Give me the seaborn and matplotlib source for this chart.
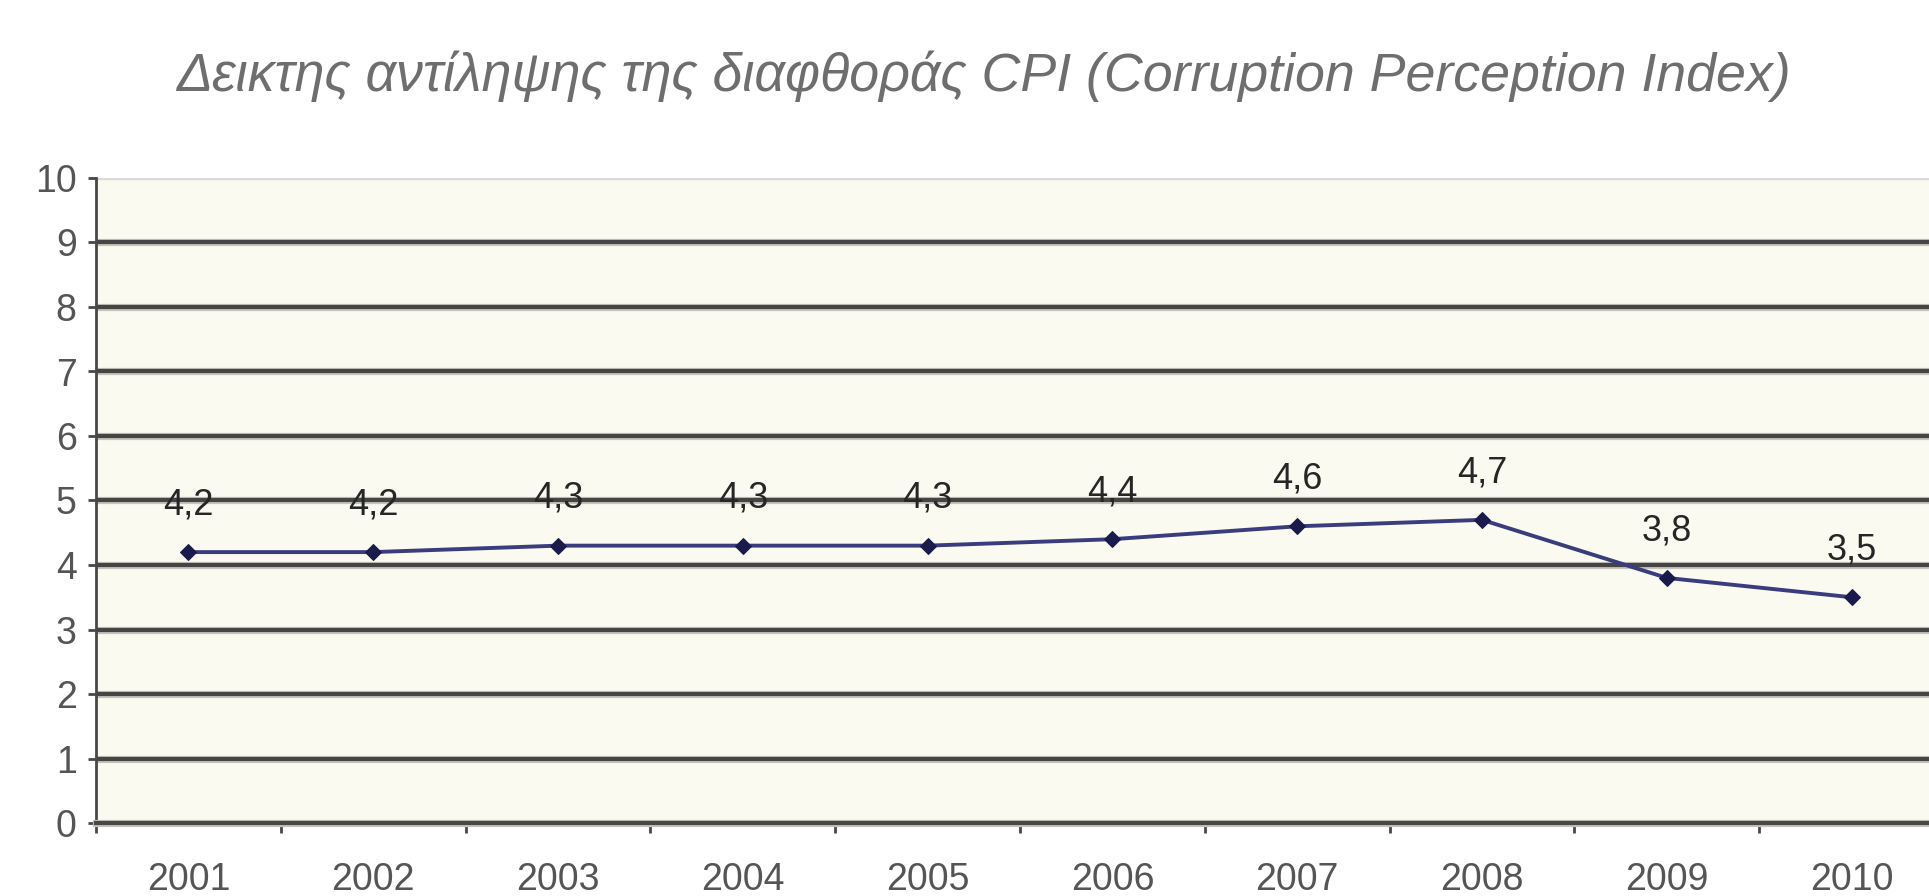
import matplotlib
matplotlib.use("Agg")
import matplotlib.pyplot as plt
import matplotlib.patheffects as pe
import seaborn as sns
import pandas as pd
import numpy as np

# ---- data ----
years = ["2001", "2002", "2003", "2004", "2005", "2006", "2007", "2008", "2009", "2010"]
cpi = [4.2, 4.2, 4.3, 4.3, 4.3, 4.4, 4.6, 4.7, 3.8, 3.5]
point_labels = ["4,2", "4,2", "4,3", "4,3", "4,3", "4,4", "4,6", "4,7", "3,8", "3,5"]
y_ticks = [0, 1, 2, 3, 4, 5, 6, 7, 8, 9, 10]
title = "Δεικτης αντίληψης της διαφθοράς CPI (Corruption Perception Index)"

sns.set_theme(style="white")
plt.rcParams['font.family'] = ['Liberation Sans', 'DejaVu Sans']

df = pd.DataFrame({"year": years, "cpi": cpi})

fig = plt.figure(figsize=(19.29, 8.96), dpi=100)
fig.patch.set_facecolor("white")
ax = fig.add_axes([96/1929, 73/896, (1944-96)/1929, (823-178)/896])
ax.set_facecolor("#fafaf0")

halo = [pe.Stroke(linewidth=5.2, foreground="#c4c4bc"), pe.Normal()]

# grid lines
for yv in y_ticks[1:-1]:
    ax.axhline(yv, color="#454545", lw=3.0, zorder=1, path_effects=halo)
ax.axhline(y_ticks[-1], color="#dadada", lw=3.2, zorder=1)

sns.lineplot(data=df, x="year", y="cpi", ax=ax, color="#3a3c7e", lw=2.8,
             marker="D", markersize=8, markerfacecolor="#1a1a4c",
             markeredgecolor="#1a1a4c", zorder=3, sort=False)

for i, (v, lab) in enumerate(zip(cpi, point_labels)):
    ax.annotate(lab, (i, v), xytext=(0, 34), textcoords="offset points",
                ha="center", va="center", fontsize=26, color="#262626", zorder=4)

ax.set_xlim(-0.5, len(years) - 0.5)
ax.set_ylim(0, 10)
ax.set_yticks(y_ticks)
ax.set_xlabel("")
ax.set_ylabel("")

for s in ["top", "right"]:
    ax.spines[s].set_visible(False)
ax.spines["left"].set_color("#484848")
ax.spines["left"].set_linewidth(2.0)
ax.spines["bottom"].set_color("#484848")
ax.spines["bottom"].set_linewidth(3.0)
ax.spines["bottom"].set_path_effects(halo)

ax.set_xticks(np.arange(-0.5, len(years), 1.0), minor=True)
ax.tick_params(axis="x", which="minor", bottom=True, length=7, width=2, color="#484848", direction="out")
ax.tick_params(axis="x", which="major", bottom=True, length=0, pad=28, labelsize=27, labelcolor="#555555")
ax.tick_params(axis="y", which="major", left=True, length=6, width=2.0, color="#484848",
               pad=8, labelsize=27, labelcolor="#555555")

fig.text(176/1929, 1 - 76/896, title, ha="left", va="center", fontsize=38.7,
         style="italic", color="#6e6e6e")

fig.savefig("out.png", dpi=100)
